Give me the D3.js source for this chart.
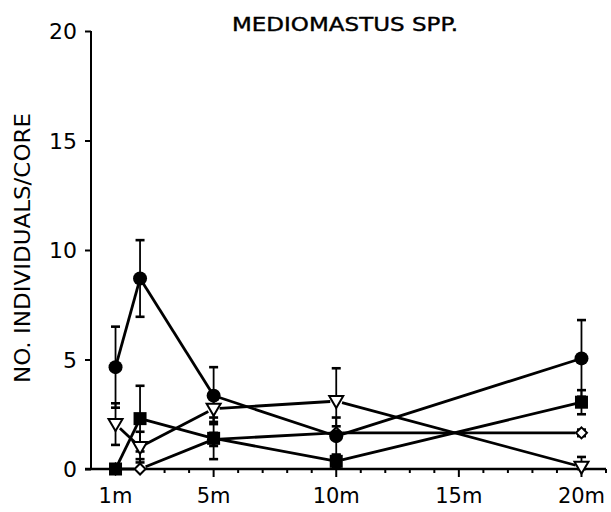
<!DOCTYPE html>
<html>
<head>
<meta charset="utf-8">
<script src="https://cdn.jsdelivr.net/npm/d3@7"></script>
<style>
  html, body { margin: 0; padding: 0; background: #fff; }
  svg { display: block; }
  text { font-family: "DejaVu Sans", sans-serif; fill: #000; }
</style>
</head>
<body>
<svg id="chart" width="611" height="512"></svg>
<script>
// Sampling distances (m) and x tick labels
const distances = [1, 2, 5, 10, 20];
const xTickValues = [1, 5, 10, 15, 20];
const xTickLabels = ["1m", "5m", "10m", "15m", "20m"];
const yTickValues = [0, 5, 10, 15, 20];

// Mean number of individuals per core and standard error, one pair per series
const circleMean   = [4.65, 8.7, 3.35, 1.5, 5.05];
const circleSE     = [1.85, 1.75, 1.3, 0.85, 1.75];
const squareMean   = [0, 2.3, 1.4, 0.35, 3.05];
const squareSE     = [0, 1.5, 0.95, 0.3, 0.55];
const triangleMean = [2.05, 1.0, 2.75, 3.1, 0.1];
const triangleSE   = [0.95, 0.7, 0.6, 1.5, 0.45];
const diamondMean  = [0, 0, 1.35, 1.65, 1.65];
const diamondSE    = [0, 0.45, 0.3, 0.3, 0.15];

const series = [
  { name: "circle",   mean: circleMean,   se: circleSE },
  { name: "square",   mean: squareMean,   se: squareSE },
  { name: "triangle", mean: triangleMean, se: triangleSE },
  { name: "diamond",  mean: diamondMean,  se: diamondSE }
];

const svg = d3.select("#chart");

const x = d3.scaleLinear().domain([0, 21]).range([91, 606]);
const y = d3.scaleLinear().domain([0, 20]).range([469, 31]);

// Title
svg.append("text")
  .attr("x", 345).attr("y", 31)
  .attr("text-anchor", "middle")
  .attr("font-size", 19)
  .attr("stroke", "#000").attr("stroke-width", 0.4)
  .attr("textLength", 226)
  .attr("lengthAdjust", "spacingAndGlyphs")
  .text("MEDIOMASTUS SPP.");

// Y axis title
svg.append("text")
  .attr("transform", "translate(30,248) rotate(-90)")
  .attr("text-anchor", "middle")
  .attr("font-size", 22)
  .attr("textLength", 270)
  .attr("lengthAdjust", "spacingAndGlyphs")
  .text("NO. INDIVIDUALS/CORE");

// Y axis
const yAxis = d3.axisLeft(y).tickValues(yTickValues).tickSize(6).tickPadding(8)
  .tickFormat(d3.format("d"));
const gy = svg.append("g").attr("transform", `translate(${x(0)},0)`).call(yAxis);
gy.select(".domain").attr("stroke", "#000").attr("stroke-width", 2)
  .attr("d", `M0,${y(20)}V${y(0)}`);
gy.selectAll(".tick line").attr("stroke", "#000").attr("stroke-width", 2);
gy.selectAll(".tick text")
  .attr("font-family", "DejaVu Sans, sans-serif")
  .attr("font-size", 22).attr("dy", "0.36em").attr("fill", "#000");

// X axis: minor ticks every metre, longer ones at labelled positions
const gx = svg.append("g").attr("transform", `translate(0,${y(0)})`);
gx.append("line").attr("x1", x(0) - 6).attr("x2", x(21))
  .attr("stroke", "#000").attr("stroke-width", 2.5);
gx.selectAll("line.minor").data(d3.range(1, 22)).join("line")
  .attr("class", "minor")
  .attr("x1", d => x(d)).attr("x2", d => x(d))
  .attr("y1", 0).attr("y2", d => (d % 5 === 0 ? 8 : 4))
  .attr("stroke", "#000").attr("stroke-width", 2);
gx.selectAll("text").data(xTickValues).join("text")
  .attr("x", d => x(d)).attr("y", 34)
  .attr("text-anchor", "middle")
  .attr("font-size", 21)
  .text((d, i) => xTickLabels[i]);

// Connecting lines, shortened at each end so they stop near the markers
const gap = 6;
const gLines = svg.append("g");
series.forEach(s => {
  for (let i = 0; i < distances.length - 1; i++) {
    const x1 = x(distances[i]), y1 = y(s.mean[i]);
    const x2 = x(distances[i + 1]), y2 = y(s.mean[i + 1]);
    const len = Math.hypot(x2 - x1, y2 - y1);
    const ux = (x2 - x1) / len, uy = (y2 - y1) / len;
    gLines.append("line")
      .attr("x1", x1 + ux * gap).attr("y1", y1 + uy * gap)
      .attr("x2", x2 - ux * gap).attr("y2", y2 - uy * gap)
      .attr("stroke", "#000").attr("stroke-width", 2.8);
  }
});

// Error bars
const gErr = svg.append("g");
series.forEach(s => {
  distances.forEach((d, i) => {
    if (s.se[i] <= 0) return;
    const cx = x(d);
    const top = y(s.mean[i] + s.se[i]);
    const bot = y(Math.max(0, s.mean[i] - s.se[i]));
    gErr.append("line").attr("x1", cx).attr("x2", cx)
      .attr("y1", top).attr("y2", bot)
      .attr("stroke", "#000").attr("stroke-width", 1.8);
    [top, bot].forEach(v => {
      gErr.append("line").attr("x1", cx - 4.5).attr("x2", cx + 4.5)
        .attr("y1", v).attr("y2", v)
        .attr("stroke", "#000").attr("stroke-width", 2.6);
    });
  });
});

// Markers
const gM = svg.append("g");
const pts = (s) => distances.map((d, i) => ({ x: x(d), y: y(s.mean[i]) }));

gM.selectAll("path.diamond").data(pts(series[3])).join("path")
  .attr("class", "diamond")
  .attr("d", p => `M${p.x},${p.y - 5.5}L${p.x + 5.5},${p.y}L${p.x},${p.y + 5.5}L${p.x - 5.5},${p.y}Z`)
  .attr("fill", "#fff").attr("stroke", "#000").attr("stroke-width", 2);

gM.selectAll("path.triangle").data(pts(series[2])).join("path")
  .attr("class", "triangle")
  .attr("d", p => `M${p.x - 7},${p.y - 5}L${p.x + 7},${p.y - 5}L${p.x},${p.y + 7}Z`)
  .attr("fill", "#fff").attr("stroke", "#000").attr("stroke-width", 2);

gM.selectAll("rect.square").data(pts(series[1])).join("rect")
  .attr("class", "square")
  .attr("x", p => p.x - 6.5).attr("y", p => p.y - 6.5)
  .attr("width", 13).attr("height", 13)
  .attr("fill", "#000");

gM.selectAll("circle.dot").data(pts(series[0])).join("circle")
  .attr("class", "dot")
  .attr("cx", p => p.x).attr("cy", p => p.y).attr("r", 7)
  .attr("fill", "#000");
</script>
</body>
</html>
